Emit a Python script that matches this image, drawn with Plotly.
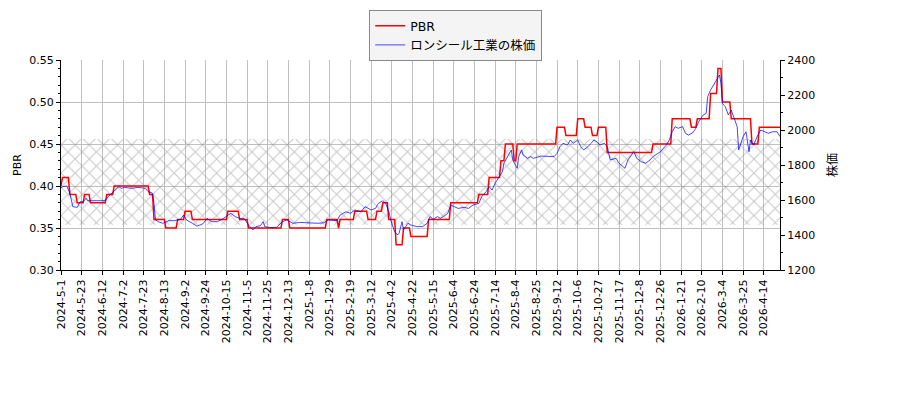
import plotly.graph_objects as go

# ---------------- data ----------------
tick_labels = ["2024-5-1", "2024-5-23", "2024-6-12", "2024-7-2", "2024-7-23", "2024-8-13",
               "2024-9-2", "2024-9-24", "2024-10-15", "2024-11-5", "2024-11-25", "2024-12-13",
               "2025-1-8", "2025-1-29", "2025-2-19", "2025-3-12", "2025-4-2", "2025-4-22",
               "2025-5-15", "2025-6-4", "2025-6-24", "2025-7-14", "2025-8-4", "2025-8-25",
               "2025-9-12", "2025-10-6", "2025-10-27", "2025-11-17", "2025-12-8", "2025-12-26",
               "2026-1-21", "2026-2-10", "2026-3-4", "2026-3-25", "2026-4-14"]
tick_step = 14          # trading days between labelled ticks

# PBR as run-length steps: level and number of trading days at that level
pbr_levels = [0.40, 0.41, 0.39, 0.38, 0.39, 0.38, 0.39, 0.40, 0.39, 0.36, 0.35, 0.36, 0.37, 0.36,
              0.37, 0.36, 0.35, 0.36, 0.35, 0.36, 0.35, 0.36, 0.37, 0.36, 0.37, 0.38, 0.36, 0.33,
              0.35, 0.34, 0.36, 0.38, 0.39, 0.41, 0.43, 0.45, 0.43, 0.45, 0.47, 0.46, 0.48, 0.47,
              0.46, 0.47, 0.44, 0.45, 0.48, 0.47, 0.48, 0.51, 0.54, 0.50, 0.48, 0.45, 0.47]
pbr_days = [1, 5, 5, 5, 4, 11, 5, 24, 3, 8, 8, 5, 5, 24,
            8, 6, 23, 5, 25, 8, 1, 10, 9, 6, 4, 4, 5, 5,
            5, 12, 15, 19, 7, 8, 3, 6, 2, 27, 6, 8, 5, 5,
            4, 6, 31, 13, 13, 4, 9, 5, 3, 6, 14, 5, 15]

# stock price readings: trading-day number and price (yen)
price_day = [0, 1, 4, 6, 8, 11, 13, 15, 17, 18, 21, 25, 30, 32, 33, 35, 37, 39, 41, 43,
             48, 52, 57, 59, 62, 63, 64, 66, 69, 73, 77, 81, 83, 85, 89, 92, 96, 99, 102, 106,
             110, 113, 115, 118, 121, 124, 127, 130, 132, 135, 137, 138, 142, 146, 150, 153, 157, 162, 167, 174,
             178, 181, 187, 189, 193, 196, 199, 203, 206, 210, 213, 215, 218, 220, 222, 224, 226, 228, 229, 231,
             232, 235, 237, 241, 245, 248, 250, 252, 255, 257, 259, 262, 264, 266, 269, 273, 276, 279, 283, 285,
             288, 290, 292, 294, 296, 299, 300, 302, 305, 306, 309, 310, 312, 313, 316, 318, 320, 325, 330, 334,
             336, 338, 340, 343, 345, 347, 350, 352, 354, 357, 359, 361, 363, 365, 368, 370, 372, 376, 378, 382,
             384, 388, 390, 393, 396, 399, 401, 404, 406, 410, 412, 414, 416, 418, 421, 423, 425, 428, 430, 432,
             435, 437, 438, 440, 442, 444, 446, 447, 448, 450, 452, 454, 456, 458, 459, 462, 464, 466, 467, 469,
             472, 474, 479, 482, 485, 487]
price_val = [1667, 1676, 1680, 1638, 1562, 1558, 1590, 1590, 1610, 1596, 1596, 1596, 1596, 1619, 1629, 1642, 1657, 1676, 1667, 1672,
             1667, 1672, 1667, 1648, 1638, 1581, 1486, 1476, 1467, 1482, 1482, 1490, 1514, 1486, 1467, 1451, 1463, 1495, 1476, 1476,
             1495, 1514, 1524, 1505, 1495, 1495, 1457, 1429, 1448, 1453, 1476, 1448, 1442, 1444, 1476, 1486, 1467, 1472, 1470, 1467,
             1470, 1486, 1482, 1514, 1533, 1524, 1543, 1533, 1562, 1543, 1552, 1581, 1596, 1581, 1533, 1467, 1419, 1400, 1410, 1476,
             1429, 1467, 1457, 1448, 1448, 1467, 1505, 1490, 1505, 1495, 1505, 1524, 1571, 1562, 1552, 1558, 1552, 1571, 1581, 1619,
             1648, 1676, 1657, 1695, 1724, 1762, 1810, 1838, 1886, 1829, 1781, 1848, 1886, 1857, 1838, 1848, 1838, 1851, 1848, 1848,
             1867, 1905, 1924, 1914, 1943, 1924, 1943, 1905, 1886, 1905, 1924, 1943, 1933, 1914, 1924, 1905, 1829, 1838, 1810, 1781,
             1829, 1876, 1838, 1819, 1810, 1829, 1848, 1867, 1876, 1914, 1943, 1990, 2019, 2010, 2019, 1981, 1971, 1985, 2010, 2048,
             2086, 2095, 2190, 2229, 2257, 2286, 2314, 2267, 2152, 2133, 2086, 2114, 2067, 2019, 1886, 1962, 1990, 1876, 1943, 1914,
             1971, 2000, 1981, 1990, 1990, 1962]

# hatched band (PBR range)
band_low = 0.354
band_high = 0.456

# ---------------- build ----------------
pbr_series = []
for lvl, cnt in zip(pbr_levels, pbr_days):
    pbr_series.extend([lvl] * cnt)
days = list(range(len(pbr_series)))
last = len(pbr_series) - 1

tick_vals = [i * tick_step for i in range(len(tick_labels))]

FONT = "DejaVu Sans, Noto Sans CJK JP, sans-serif"

fig = go.Figure()

fig.add_trace(go.Scatter(
    x=[0, last, last, 0, 0], y=[band_low, band_low, band_high, band_high, band_low],
    mode="lines", fill="toself", line=dict(width=0), fillcolor="rgba(0,0,0,0)",
    fillpattern=dict(shape="x", fgcolor="#8c8c8c", bgcolor="rgba(255,255,255,0)", size=10, solidity=0.18),
    showlegend=False, hoverinfo="skip", yaxis="y"))

fig.add_trace(go.Scatter(
    x=days, y=pbr_series, mode="lines", name="PBR",
    line=dict(color="#ff0000", width=1.5), yaxis="y"))

fig.add_trace(go.Scatter(
    x=price_day, y=price_val, mode="lines", name="ロンシール工業の株価",
    line=dict(color="rgba(0,0,255,0.72)", width=1), yaxis="y2"))

fig.update_layout(
    width=900, height=400,
    margin=dict(l=61, r=120, t=60, b=130, autoexpand=False),
    paper_bgcolor="white", plot_bgcolor="white",
    font=dict(family=FONT, size=11, color="black"),
    showlegend=True,
    legend=dict(x=0.549, y=1.238, xanchor="center", yanchor="top",
                bgcolor="#f4f4f4", bordercolor="#888888", borderwidth=1,
                font=dict(family=FONT, size=12.5), tracegroupgap=0),
    xaxis=dict(range=[0, last], tickmode="array", tickvals=tick_vals, ticktext=tick_labels,
               tickangle=-90, ticks="outside", ticklen=4, tickcolor="black",
               showgrid=True, gridcolor="#c0c0c0", gridwidth=1, automargin=False,
               showline=True, linecolor="black", linewidth=1, zeroline=False,
               tickfont=dict(size=11)),
    yaxis=dict(range=[0.30, 0.55], tickmode="linear", tick0=0.30, dtick=0.05, tickformat=".2f",
               ticks="outside", ticklen=4, tickcolor="black", automargin=False,
               minor=dict(ticks="outside", ticklen=2, dtick=0.01, tickcolor="black", showgrid=False),
               showgrid=True, gridcolor="#c0c0c0", gridwidth=1,
               showline=True, linecolor="black", linewidth=1, zeroline=False,
               title=dict(text="PBR", standoff=5, font=dict(size=11))),
    yaxis2=dict(range=[1200, 2400], tickmode="linear", tick0=1200, dtick=200,
                overlaying="y", side="right", anchor="x", automargin=False,
                ticks="outside", ticklen=4, tickcolor="black",
                minor=dict(ticks="outside", ticklen=2, dtick=100, tickcolor="black", showgrid=False),
                showgrid=False, showline=True, linecolor="black", linewidth=1, zeroline=False,
                title=dict(text="株価", standoff=14, font=dict(size=12))),
)

fig.write_html("out.html", post_script="document.body.style.margin='0px';",
               config={"displayModeBar": False})
